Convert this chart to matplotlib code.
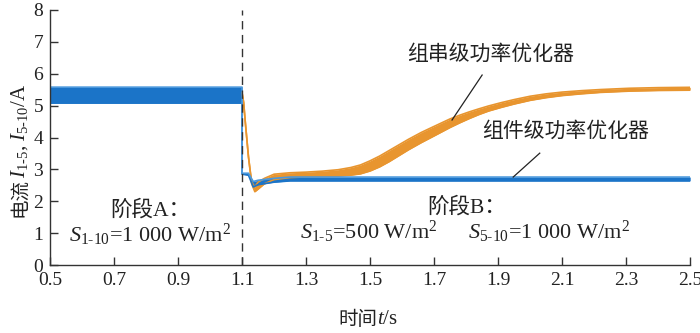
import matplotlib
matplotlib.use("Agg")
import matplotlib.pyplot as plt

plt.rcParams['font.family'] = ['Liberation Serif', 'Noto Sans CJK SC']
plt.rcParams['mathtext.fontset'] = 'custom'
plt.rcParams['mathtext.rm'] = 'Liberation Serif'
plt.rcParams['mathtext.it'] = 'Liberation Serif:italic'

# Module-level optimizer current (blue): lower / upper envelope of the ripple band
t_module = [0.5, 1.1, 1.1001, 1.12, 1.135, 1.15, 1.2, 1.25, 2.5]
module_lo = [5.08, 5.08, 2.85, 2.82, 2.45, 2.52, 2.6, 2.64, 2.64]
module_hi = [5.58, 5.58, 2.88, 2.88, 2.62, 2.66, 2.72, 2.76, 2.76]

# String-level optimizer current (orange): lower / upper envelope
t_string = [1.1, 1.105, 1.11, 1.12, 1.13, 1.14, 1.15, 1.17, 1.2, 1.25, 1.3,
            1.35, 1.4, 1.44, 1.47, 1.5, 1.53, 1.56, 1.59, 1.62, 1.66, 1.7,
            1.75, 1.78, 1.81, 1.84, 1.87, 1.91, 1.95, 2.0, 2.05, 2.1, 2.16,
            2.22, 2.31, 2.4, 2.5]
string_lo = [5.4, 5.1, 4.5, 3.4, 2.55, 2.3, 2.38, 2.55, 2.68, 2.745, 2.765,
             2.775, 2.79, 2.82, 2.86, 2.95, 3.08, 3.245, 3.43, 3.615, 3.84, 4.05,
             4.315, 4.46, 4.595, 4.72, 4.83, 4.945, 5.05, 5.165, 5.25, 5.315, 5.37,
             5.415, 5.455, 5.475, 5.485]
string_hi = [5.4, 5.1, 4.5, 3.4, 2.6, 2.45, 2.6, 2.72, 2.85, 2.895, 2.915,
             2.945, 2.99, 3.06, 3.14, 3.27, 3.42, 3.595, 3.77, 3.945, 4.16, 4.35,
             4.585, 4.7, 4.805, 4.9, 4.99, 5.095, 5.19, 5.295, 5.37, 5.425, 5.47,
             5.505, 5.545, 5.565, 5.575]

x_ticks = [0.5, 0.7, 0.9, 1.1, 1.3, 1.5, 1.7, 1.9, 2.1, 2.3, 2.5]
y_ticks = [0, 1, 2, 3, 4, 5, 6, 7, 8]
t_switch = 1.1

blue = '#1b74c8'
orange = '#e8952f'
ink = '#222222'

fig = plt.figure(figsize=(7.0, 3.33), dpi=100)
ax = fig.add_axes([0.0714, 0.204, 0.9146, 0.766])

ax.fill_between(t_string, string_lo, string_hi, color=orange, lw=0)
ax.plot(t_string, string_lo, color=orange, lw=1.2)
ax.plot(t_string, string_hi, color=orange, lw=1.2)

ax.fill_between(t_module, module_lo, module_hi, color=blue, lw=0)
ax.plot(t_module, module_lo, color=blue, lw=1.2)
ax.plot(t_module, module_hi, color='#4a98dc', lw=1.2)

ax.axvline(t_switch, color='#333333', lw=1.0, ls=(0, (6, 4)))

ax.set_xlim(0.5, 2.5)
ax.set_ylim(0, 8)
ax.set_xticks(x_ticks)
ax.set_xticklabels([f'{v:.1f}' for v in x_ticks])
ax.set_yticks(y_ticks)
ax.tick_params(direction='in', length=6, width=1.0, labelsize=14, pad=5,
               color='#333333', labelcolor=ink)
for s in ('top', 'right'):
    ax.spines[s].set_visible(False)
for s in ('left', 'bottom'):
    ax.spines[s].set_color('#333333')
    ax.spines[s].set_linewidth(1.0)

# Axis titles: CJK part and math part drawn side by side
fig.text(377 / 700, 1 - 320 / 333, '时间', fontsize=14, ha='right',
         va='center', color=ink)
fig.text(377 / 700, 1 - 320 / 333, '$t$/s', fontsize=15, ha='left',
         va='center', color=ink)
fig.text(20 / 700, 1 - 178 / 333, '电流', fontsize=14, rotation=90,
         ha='center', va='top', color=ink)
fig.text(20 / 700, 1 - 178 / 333,
         r'$I_{\mathrm{1\text{-}5}}$, $I_{\mathrm{5\text{-}10}}$/A',
         fontsize=15, rotation=90, ha='center', va='bottom', color=ink)

# Curve annotations
ax.text(1.875, 6.58, '组串级功率优化器', fontsize=15, ha='center',
        va='center', color=ink)
ax.plot([1.85, 1.756], [5.96, 4.55], color=ink, lw=0.9)
ax.text(2.11, 4.17, '组件级功率优化器', fontsize=15, ha='center',
        va='center', color=ink)
ax.plot([2.03, 1.947], [3.51, 2.76], color=ink, lw=0.9)

# Stage descriptions
ax.text(0.6875, 1.72, '阶段A：', fontsize=15.5, ha='left', va='center', color=ink)
ax.text(0.8125, 0.94, r'$S_{\mathrm{1\text{-}10}}$=1 000 W/m$^{2}$', fontsize=16,
        ha='center', va='center', color=ink)
ax.text(1.678, 1.82, '阶段B：', fontsize=15.5, ha='left', va='center', color=ink)
ax.text(1.497, 1.03, r'$S_{\mathrm{1\text{-}5}}$=500 W/m$^{2}$', fontsize=16,
        ha='center', va='center', color=ink)
ax.text(2.06, 1.03, r'$S_{\mathrm{5\text{-}10}}$=1 000 W/m$^{2}$', fontsize=16,
        ha='center', va='center', color=ink)

fig.savefig('out.png', dpi=100)
